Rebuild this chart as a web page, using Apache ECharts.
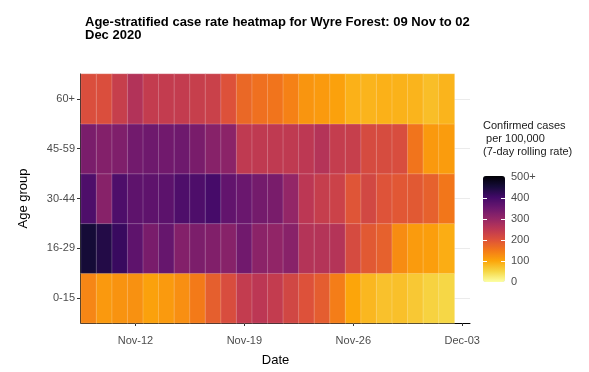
<!DOCTYPE html>
<html>
<head>
<meta charset="utf-8">
<script src="https://cdn.jsdelivr.net/npm/echarts@6/dist/echarts.min.js"></script>
<style>
  html, body { margin: 0; padding: 0; background: #fff; }
  #chart { width: 589px; height: 372px; }
</style>
</head>
<body>
<div id="chart"></div>
<script>
// ---- Data ----
const dates = [
  '2020-11-09','2020-11-10','2020-11-11','2020-11-12','2020-11-13','2020-11-14',
  '2020-11-15','2020-11-16','2020-11-17','2020-11-18','2020-11-19','2020-11-20',
  '2020-11-21','2020-11-22','2020-11-23','2020-11-24','2020-11-25','2020-11-26',
  '2020-11-27','2020-11-28','2020-11-29','2020-11-30','2020-12-01','2020-12-02'
];
const axisEndDate = '2020-12-03';
const tickDates = ['2020-11-12','2020-11-19','2020-11-26','2020-12-03'];
const ageGroups = ['0-15','16-29','30-44','45-59','60+'];

const rate0to15  = [135,113,120,122,105,112,125,148,182,208,240,250,240,220,200,185,145,100,82,72,73,65,55,50];
const rate16to29 = [452,435,410,365,332,355,320,328,322,315,342,310,302,313,260,260,260,212,190,180,128,111,108,92];
const rate30to44 = [385,315,385,365,365,368,385,385,395,360,350,338,332,300,250,237,228,195,218,198,192,190,180,152];
const rate45to59 = [330,320,325,340,345,342,345,332,315,310,245,245,245,245,248,260,238,235,212,210,207,155,113,110];
const rate60plus = [205,205,235,262,240,240,240,235,230,200,170,160,155,140,118,112,105,88,85,88,87,85,75,85];

const legendBreaks = [0,100,200,300,400,500];
const legendMax = 500;

// ---- Build ----
const rows = [rate0to15, rate16to29, rate30to44, rate45to59, rate60plus];
const axisDates = dates.concat([axisEndDate]);
const heatData = [];
rows.forEach((vals, yi) => vals.forEach((v, xi) => heatData.push([xi, yi, v])));

const months = ['Jan','Feb','Mar','Apr','May','Jun','Jul','Aug','Sep','Oct','Nov','Dec'];
function fmtDate(s) {
  const p = s.split('-');
  return months[parseInt(p[1], 10) - 1] + '-' + p[2];
}
const inferno = ['#fcffa4','#f6d746','#fca50a','#f37819','#dd513a','#bc3754',
                 '#932667','#6a176e','#420a68','#160b39','#000004'];
const FONT = '"Liberation Sans", Arial, Helvetica, sans-serif';

const chart = echarts.init(document.getElementById('chart'), null, { renderer: 'canvas' });
chart.setOption({
  animation: false,
  backgroundColor: '#ffffff',
  title: [{
    text: 'Age-stratified case rate heatmap for Wyre Forest: 09 Nov to 02\nDec 2020',
    left: 80, top: 11,
    textStyle: { fontFamily: FONT, fontSize: 13, fontWeight: 'bold', color: '#000', lineHeight: 13 }
  }, {
    text: 'Confirmed cases\n per 100,000\n(7-day rolling rate)',
    left: 483, top: 119, padding: 0,
    textStyle: { fontFamily: FONT, fontSize: 11, fontWeight: 'normal', color: '#1a1a1a', lineHeight: 13 }
  }],
  grid: [
    { left: 81, top: 74, width: 389, height: 250, containLabel: false },
    { left: 483, top: 177, width: 22, height: 105, containLabel: false }
  ],
  xAxis: [{
    type: 'category', gridIndex: 0, data: axisDates,
    offset: 4,
    name: 'Date', nameLocation: 'middle', nameGap: 27,
    nameTextStyle: { fontFamily: FONT, fontSize: 13, color: '#000' },
    axisLine: { show: true, lineStyle: { color: '#000', width: 1 } },
    axisTick: { show: true, alignWithLabel: true, length: 3, lineStyle: { color: '#333' },
      interval: (i, v) => tickDates.includes(v) },
    axisLabel: { interval: (i, v) => tickDates.includes(v), formatter: fmtDate,
      fontFamily: FONT, fontSize: 11, color: '#4d4d4d', margin: 8 },
    splitLine: { show: false }
  }, {
    type: 'value', gridIndex: 1, show: false, min: 0, max: 1
  }],
  yAxis: [{
    type: 'category', gridIndex: 0, data: ageGroups,
    offset: 1,
    name: 'Age group', nameLocation: 'middle', nameGap: 50, nameRotate: 90,
    nameTextStyle: { fontFamily: FONT, fontSize: 13, color: '#000' },
    axisLine: { show: true, lineStyle: { color: '#000', width: 1 } },
    axisTick: { show: true, alignWithLabel: true, length: 3, lineStyle: { color: '#333' } },
    axisLabel: { fontFamily: FONT, fontSize: 11, color: '#4d4d4d', margin: 5 },
    splitLine: { show: false }
  }, {
    type: 'value', gridIndex: 0, min: 0, max: 10, interval: 1, position: 'right',
    axisLine: { show: false }, axisTick: { show: false }, axisLabel: { show: false },
    splitLine: { show: true, lineStyle: { color: ['rgba(0,0,0,0)', '#ebebeb'], width: 1 } }
  }, {
    type: 'value', gridIndex: 1, min: 0, max: legendMax, interval: 100, position: 'right',
    z: 10,
    axisLine: { show: false }, axisTick: { show: false },
    axisLabel: { show: true, margin: 6, fontFamily: FONT, fontSize: 11, color: '#4d4d4d',
      formatter: v => (v === legendMax ? legendMax + '+' : String(v)),
      customValues: legendBreaks },
    splitLine: { show: true, lineStyle: {
      color: ['rgba(0,0,0,0)', '#ffffff', '#ffffff', '#ffffff', '#ffffff', 'rgba(0,0,0,0)'],
      width: 1, type: [4, 14] } }
  }],
  visualMap: {
    type: 'continuous', seriesIndex: 0, min: 0, max: legendMax,
    calculable: false, hoverLink: false, realtime: false,
    left: 483, top: 176, itemWidth: 22, itemHeight: 106, padding: 0,
    text: null, showLabel: false,
    inRange: { color: inferno }
  },
  series: [{
    type: 'heatmap', xAxisIndex: 0, yAxisIndex: 0,
    data: heatData,
    itemStyle: { borderColor: 'rgba(255,255,255,0.35)', borderWidth: 0.6 },
    emphasis: { disabled: true },
    z: 2
  }]
});
</script>
</body>
</html>
